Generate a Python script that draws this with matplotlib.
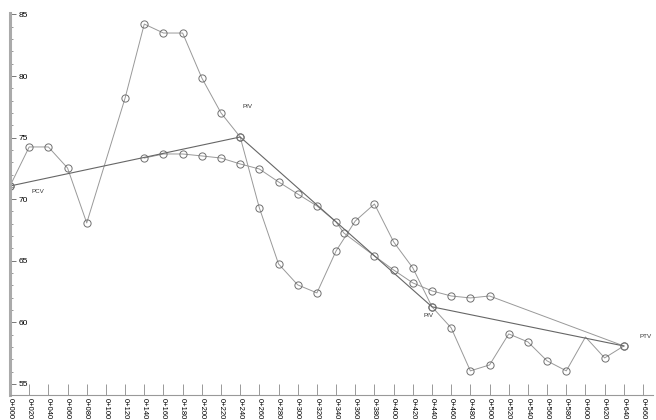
import numpy as np
import matplotlib
matplotlib.use('Agg')
import matplotlib.pyplot as plt
from matplotlib.ticker import MultipleLocator

plt.rcParams['font.family'] = ['Liberation Sans', 'DejaVu Sans']

# ---- Data (stations in m, elevations in m) ----
ground_st = [0, 20, 40, 60, 80, 120, 140, 160, 180, 200, 220, 240, 260, 280, 300,
             320, 340, 360, 380, 400, 420, 440, 460, 480, 500, 520, 540, 560, 580,
             600, 620, 640]
ground_el = [71.07, 74.24, 74.24, 72.53, 68.07, 78.21, 84.22, 83.49, 83.49, 79.84,
             77.00, 75.05, 69.29, 64.74, 63.04, 62.39, 65.80, 68.23, 69.61, 66.53,
             64.42, 61.26, 59.55, 56.06, 56.54, 59.06, 58.41, 56.87, 56.06, 58.81,
             57.11, 58.08]

curve_st = [140, 160, 180, 200, 220, 240, 260, 280, 300, 320, 340, 348, 380, 400,
            420, 440, 460, 480, 500, 640]
curve_el = [73.34, 73.67, 73.67, 73.51, 73.34, 72.86, 72.45, 71.40, 70.42, 69.45,
            68.15, 67.26, 65.39, 64.25, 63.20, 62.55, 62.14, 61.98, 62.14, 58.08]

grade_st = [0, 240, 440, 640]
grade_el = [71.07, 75.05, 61.26, 58.08]
grade_lbl = ['PCV', 'PIV', 'PIV', 'PTV']
lbl_x = [22, 242, 431, 656]
lbl_y = [70.65, 77.56, 60.52, 58.81]

stations = list(range(0, 661, 20))
station_lbl = [f'0+{s:03d}' for s in stations]

# ---- Figure ----
fig = plt.figure(figsize=(6.56, 4.2), dpi=100)
ax = fig.add_axes([10 / 656, 25 / 420, 642.6 / 656, 381.8 / 420])
ax.set_xlim(0, 670)
ax.set_ylim(54.1, 85.1)

mk = dict(marker='o', markersize=5.2, markerfacecolor='none',
          markeredgecolor='#707070', markeredgewidth=0.7)

no_mark = ground_st.index(600)
ax.plot(ground_st, ground_el, color='#999999', lw=0.7,
        markevery=[i for i in range(len(ground_st)) if i != no_mark], **mk)
ax.plot(curve_st, curve_el, color='#999999', lw=0.7,
        markevery=list(range(len(curve_st) - 1)), **mk)
ax.plot(grade_st, grade_el, color='#666666', lw=0.8, **mk)

for t, x, y in zip(grade_lbl, lbl_x, lbl_y):
    ax.text(x, y, t, fontsize=4.5, ha='left', va='center', color='#333333')

# ---- Axes styling ----
for s in ['top', 'right']:
    ax.spines[s].set_visible(False)
ax.spines['left'].set_color('#aaaaaa')
ax.spines['left'].set_linewidth(2.2)
ax.spines['bottom'].set_color('#999999')
ax.spines['bottom'].set_linewidth(0.8)

ax.yaxis.set_major_locator(MultipleLocator(5))
ax.yaxis.set_minor_locator(MultipleLocator(1))
ax.tick_params(axis='y', which='major', direction='in', length=4, width=0.7,
               color='#777777', pad=-6.5, labelsize=6)
ax.tick_params(axis='y', which='minor', direction='in', length=2, width=0.6,
               color='#888888')
for lab in ax.get_yticklabels():
    lab.set_horizontalalignment('left')

ax.set_xticks(stations)
ax.set_xticklabels(station_lbl, rotation=270, fontsize=5.5)
ax.tick_params(axis='x', direction='in', length=8, width=0.7,
               color='#999999', pad=2)

fig.savefig('out.png', dpi=100)
